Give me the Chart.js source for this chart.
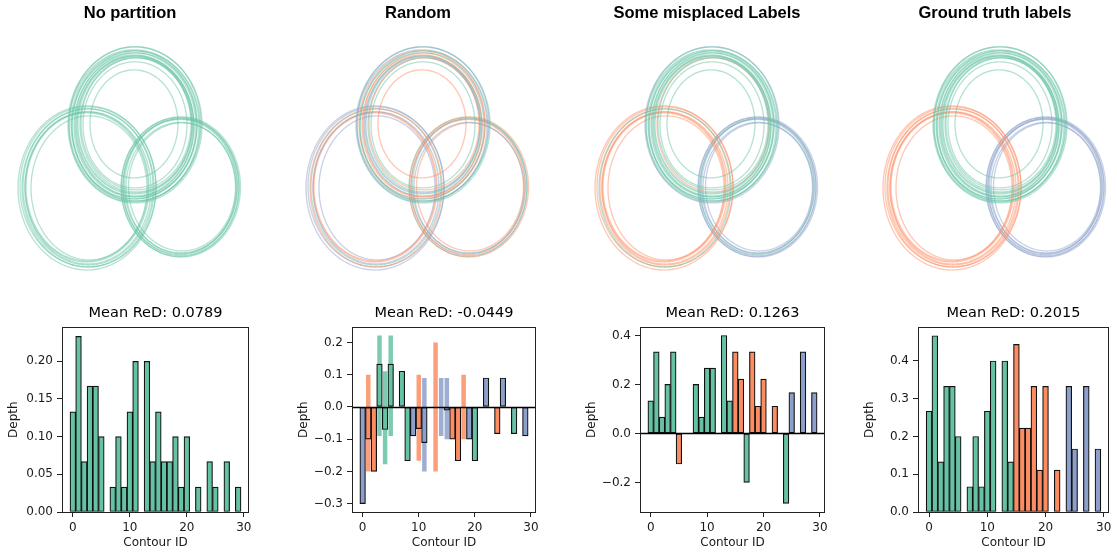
<!DOCTYPE html>
<html>
<head>
<meta charset="utf-8">
<script src="https://cdn.jsdelivr.net/npm/chart.js@4.4.1/dist/chart.umd.min.js"></script>
<style>
  body { margin: 0; background: #fff; }
  #page { position: relative; width: 1117px; height: 556px; overflow: hidden; }
  canvas { position: absolute; }
</style>
</head>
<body>
<div id="page"></div>
<script>
const SET2 = ['#66c2a5', '#fc8d62', '#8da0cb']

const contourIds = [0,1,2,3,4,5,6,7,8,9,10,11,12,13,14,15,16,17,18,19,20,21,22,23,24,25,26,27,28,29]
const panelTitles = ['No partition', 'Random', 'Some misplaced Labels', 'Ground truth labels']
const meanTitles = ['Mean ReD: 0.0789', 'Mean ReD: -0.0449', 'Mean ReD: 0.1263', 'Mean ReD: 0.2015']

// contour outlines in grid units: centre and half axes of each contour
const cx = [135,134,136,135,134,136,134,135,136,135,134,135,135,136,134, 88,87,88,87,89,88,87,88, 181,180,181,182,181,180,181]
const cy = [165,164,166,165,164,165,166,165,164,166,165,164,165,165,164, 102,103,102,103,102,103,102,103, 103,103,102,103,104,103,103]
const rx = [57,60,55,58,62,56,44,52,64,66,63,59,67,61,65, 63,61,66,62,58,65,69,68, 59.5,57,55,53.5,56.5,59,58]
const ry = [68,71,66,69,73,67,54,63,75,77,74,70,78,72,76, 76,74,79,75,72,78,82,80, 70,67.5,65.5,64,67,69.5,68.5]

// cluster of each contour per partition (0 green, 1 orange, 2 blue)
const labelsNone      = [0,0,0,0,0,0,0,0,0,0,0,0,0,0,0,0,0,0,0,0,0,0,0,0,0,0,0,0,0,0]
const labelsRandom    = [2,1,1,0,0,0,1,0,0,2,1,2,0,1,2,2,1,1,1,2,0,2,2,1,1,2,1,0,0,2]
const labelsMisplaced = [0,0,0,0,0,1,0,0,0,0,0,0,2,0,0,1,1,0,1,1,1,1,1,2,0,2,2,2,2,2]
const labelsTruth     = [0,0,0,0,0,0,0,0,0,0,0,0,0,0,0,1,1,1,1,1,1,1,1,2,2,2,2,2,2,2]

const depthNone      = [0.133,0.233,0.067,0.167,0.167,0.1,0,0.033,0.1,0.033,0.133,0.2,0,0.2,0.067,0.133,0.067,0.067,0.1,0.033,0.1,0,0.033,0,0.067,0.033,0,0.067,0,0.033]
const depthRandom    = [-0.3,-0.1,-0.2,0.133,-0.07,0.133,0,0.111,-0.167,-0.09,-0.067,-0.111,0,0,0,-0.01,-0.1,-0.167,0,-0.1,-0.167,0,0.09,0,-0.083,0.09,0,-0.083,0,-0.09]
const depthMisplaced = [0.133,0.333,0.067,0.2,0.333,-0.125,0,0,0.2,0.067,0.267,0.267,0,0.4,0.133,0.333,0.222,-0.2,0.333,0.111,0.222,0,0.111,0,-0.286,0.167,0,0.333,0,0.167]
const depthTruth     = [0.267,0.467,0.133,0.333,0.333,0.2,0,0.067,0.2,0.067,0.267,0.4,0,0.4,0.133,0.444,0.222,0.222,0.333,0.111,0.333,0,0.111,0,0.333,0.167,0,0.333,0,0.167]

// pale range bars behind the random panel
const rangeIds  = [1,3,4,5,10,11,13,14,15,18]
const rangeLow  = [-0.2,-0.09,-0.178,-0.09,-0.167,-0.2,-0.2,-0.09,-0.1,-0.1]
const rangeHigh = [0.1,0.222,0.111,0.222,0.1,0.09,0.2,0.09,0.09,0.1]

const xTicks = [0, 10, 20, 30]
const yTicksNone = [0, 0.05, 0.1, 0.15, 0.2]
const yTicksRandom = [-0.3, -0.2, -0.1, 0, 0.1, 0.2]
const yTicksMisplaced = [-0.2, 0, 0.2, 0.4]
const yTicksTruth = [0, 0.1, 0.2, 0.3, 0.4]

const page = document.getElementById('page')
const TXT = '#1a1a1a'
const MONO = 'DejaVu Sans'

function canvasAt(left, top, w, h) {
  const c = document.createElement('canvas')
  c.width = w; c.height = h
  c.style.left = left + 'px'; c.style.top = top + 'px'
  c.style.width = w + 'px'; c.style.height = h + 'px'
  page.appendChild(c)
  return c
}

function fade(hex, a) {
  const n = parseInt(hex.slice(1), 16)
  return `rgba(${n >> 16},${(n >> 8) & 255},${n & 255},${a})`
}

function outline(k) {
  const pts = []
  for (let s = 0; s <= 120; s++) {
    const t = s / 120 * 2 * Math.PI
    pts.push({ x: cx[k] + rx[k] * Math.cos(t), y: cy[k] + ry[k] * Math.sin(t) })
  }
  return pts
}

function contourChart(i, labels) {
  const c = canvasAt(Math.round(288.3 * i), 0, 260, 290)
  new Chart(c, {
    type: 'scatter',
    data: {
      datasets: contourIds.map(k => ({
        data: outline(k),
        showLine: true,
        borderColor: fade(SET2[labels[k]], 0.48),
        borderWidth: 1.35,
        pointRadius: 0,
        tension: 0.001,
        fill: false
      }))
    },
    options: {
      responsive: false, animation: false, events: [],
      layout: { padding: 0 },
      plugins: {
        legend: { display: false }, tooltip: { enabled: false },
        title: {
          display: true, text: panelTitles[i], color: '#000',
          font: { family: 'Liberation Sans', size: 16.5, weight: 'bold' },
          padding: { top: 3.6, bottom: 6.4 }
        }
      },
      scales: {
        x: { type: 'linear', display: false, min: 0, max: 260 },
        y: { type: 'linear', display: false, min: 0, max: 260 }
      }
    }
  })
}

const frame = {
  id: 'frame',
  afterDatasetsDraw(chart, args, opts) {
    const { ctx, chartArea: a } = chart
    ctx.save()
    if (opts.zero) {
      const y0 = Math.round(chart.scales.y.getPixelForValue(0)) + 0.5
      ctx.strokeStyle = '#000'; ctx.lineWidth = 1.6
      ctx.beginPath(); ctx.moveTo(a.left, y0); ctx.lineTo(a.right, y0); ctx.stroke()
    }
    ctx.strokeStyle = '#222'; ctx.lineWidth = 1
    ctx.strokeRect(Math.round(a.left) + 0.5, Math.round(a.top) + 0.5, Math.round(a.width) - 1, Math.round(a.height))
    ctx.restore()
  }
}

function depthChart(i, box, vals, labels, yMin, yMax, yTicks, dec, zero, withRanges) {
  const [axLeft, axRight, padRight] = box
  const w = 60 + (axRight - axLeft) + padRight
  const c = canvasAt(axLeft - 60, 300, w, 256)
  const datasets = [{
    data: contourIds.map(k => ({ x: k, y: vals[k] })),
    backgroundColor: contourIds.map(k => SET2[labels[k]]),
    borderColor: '#111',
    borderWidth: 1.2,
    borderSkipped: false,
    barPercentage: 1.0,
    categoryPercentage: 1,
    grouped: false,
    order: 0
  }]
  if (withRanges) {
    datasets.push({
      data: rangeIds.map((k, j) => ({ x: k, y: [rangeLow[j], rangeHigh[j]] })),
      backgroundColor: rangeIds.map(k => fade(SET2[labels[k]], 0.85)),
      borderWidth: 0,
      barPercentage: 0.8,
      categoryPercentage: 1,
      grouped: false,
      order: 1
    })
  }
  new Chart(c, {
    type: 'bar',
    data: { datasets },
    plugins: [frame],
    options: {
      responsive: false, animation: false, events: [],
      layout: { padding: { left: 0, right: padRight, top: 0, bottom: 0 } },
      plugins: {
        legend: { display: false }, tooltip: { enabled: false },
        frame: { zero },
        title: {
          display: true, text: meanTitles[i], color: '#000', fullSize: false,
          font: { family: MONO, size: 14.5, weight: 'normal' },
          padding: { top: 5, bottom: 5 }
        }
      },
      scales: {
        x: {
          type: 'linear', min: -1.9, max: 30.9, offset: false,
          afterBuildTicks: s => { s.ticks = xTicks.map(v => ({ value: v })) },
          afterFit: s => { s.height = 44 },
          border: { display: false },
          grid: { offset: false, drawOnChartArea: false, drawTicks: true, tickLength: 5, color: '#222' },
          ticks: { color: TXT, font: { family: MONO, size: 12 }, padding: 4, maxRotation: 0, autoSkip: false, callback: v => String(v) },
          title: { display: true, text: 'Contour ID', color: TXT, font: { family: MONO, size: 12 }, padding: { top: 0, bottom: 6 } }
        },
        y: {
          type: 'linear', min: yMin, max: yMax,
          afterBuildTicks: s => { s.ticks = yTicks.map(v => ({ value: v })) },
          afterFit: s => { s.width = 60 },
          border: { display: false },
          grid: { drawOnChartArea: false, drawTicks: true, tickLength: 5, color: '#222' },
          ticks: { color: TXT, font: { family: MONO, size: 12 }, padding: 4, autoSkip: false, callback: v => v.toFixed(dec).replace('-', '\u2212') },
          title: { display: true, text: 'Depth', color: TXT, font: { family: MONO, size: 12 }, padding: { top: 5, bottom: 0 } }
        }
      }
    }
  })
}

contourChart(0, labelsNone)
contourChart(1, labelsRandom)
contourChart(2, labelsMisplaced)
contourChart(3, labelsTruth)

depthChart(0, [62, 249, 12], depthNone, labelsNone, 0, 0.245, yTicksNone, 2, false, false)
depthChart(1, [352, 536, 12], depthRandom, labelsRandom, -0.326, 0.247, yTicksRandom, 1, true, true)
depthChart(2, [640, 825, 12], depthMisplaced, labelsMisplaced, -0.321, 0.433, yTicksMisplaced, 1, true, false)
depthChart(3, [918, 1109, 8], depthTruth, labelsTruth, 0, 0.489, yTicksTruth, 1, false, false)
</script>
</body>
</html>
